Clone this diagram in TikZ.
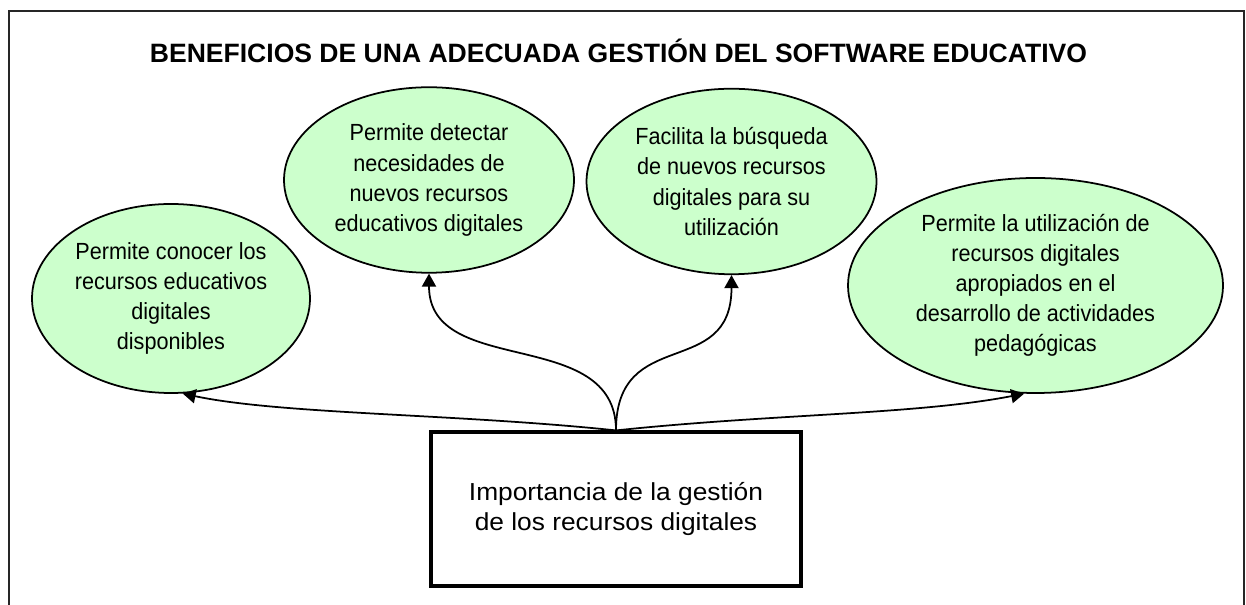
\documentclass[tikz,border=0pt]{standalone}
\usepackage{fontspec}
\setmainfont{Liberation Sans}
\newfontfamily\narrowfont[FakeStretch=0.925]{Liberation Sans}
\newfontfamily\widefont[FakeStretch=1.07]{Liberation Sans}
\usepackage{xcolor}
\usepackage{tikz}
\usetikzlibrary{shapes.geometric}
\usetikzlibrary{arrows.meta}
\definecolor{mintfill}{RGB}{204,255,204}
\tikzset{
greenellipsev1/.style={ellipse, draw=black!100,fill=mintfill,line width=1pt, inner sep=0pt, align=center, font=\narrowfont\fontsize{13.3pt}{17.1pt}\selectfont, minimum width= 5.56cm, minimum height = 3.78cm},
greenellipsev2/.style={ellipse, draw=black!100,fill=mintfill,line width=1pt, inner sep=0pt, align=center, font=\narrowfont\fontsize{13.3pt}{17.1pt}\selectfont, minimum width= 5.8cm, minimum height = 3.71cm},
greenellipsev3/.style={ellipse, draw=black!100,fill=mintfill,line width=1pt, inner sep=0pt, align=center, font=\narrowfont\fontsize{13.3pt}{17.1pt}\selectfont, minimum width= 7.5cm, minimum height = 4.3cm},
importbox/.style={rectangle, draw=black!100,fill=white,line width=1.8pt, inner sep=0pt, align=center, font=\widefont\fontsize{14pt}{17.1pt}\selectfont, minimum width= 7.4cm, minimum height = 3.08cm},
titletext/.style={anchor=base, inner sep=0pt, font=\fontsize{15.1pt}{18pt}\selectfont\bfseries},
arrowcurve/.style={line width=1pt, black, -{Triangle[length=7.4pt,width=8pt]}},
}
\begin{document}
\begin{tikzpicture}
\useasboundingbox (0,0) rectangle (24.92,12.1);
\draw[line width=0.7pt,black!85] (0.18,0) -- (0.18,11.88) -- (24.88,11.88) -- (24.88,0);
\node[titletext] at (12.37,10.84) (titulo) {BENEFICIOS DE UNA ADECUADA GESTIÓN DEL SOFTWARE EDUCATIVO};
\node[greenellipsev1] at (3.42,6.13) (conocer) {Permite conocer los\\recursos educativos\\digitales\\disponibles};
\node[greenellipsev2] at (8.58,8.50) (detectar) {Permite detectar\\necesidades de\\nuevos recursos\\educativos digitales};
\node[greenellipsev2] at (14.63,8.47) (busqueda) {Facilita la búsqueda\\de nuevos recursos\\digitales para su\\utilización};
\node[greenellipsev3] at (20.71,6.39) (utilizacion) {Permite la utilización de\\recursos digitales\\apropiados en el\\desarrollo de actividades\\pedagógicas};
\node[importbox] at (12.32,1.92) (importancia) {Importancia de la gestión\\de los recursos digitales};
\draw[arrowcurve] (importancia.north) to[out=174,in=-12,out distance=3.2cm,in distance=2cm] (conocer.-83);
\draw[arrowcurve] (importancia.north) to[out=90,in=-90,looseness=1.1] (detectar.south);
\draw[arrowcurve] (importancia.north) to[out=90,in=-90,looseness=1.4] (busqueda.south);
\draw[arrowcurve] (importancia.north) to[out=6,in=-169,out distance=3.2cm,in distance=2.2cm] (utilizacion.-96);
\end{tikzpicture}
\end{document}
